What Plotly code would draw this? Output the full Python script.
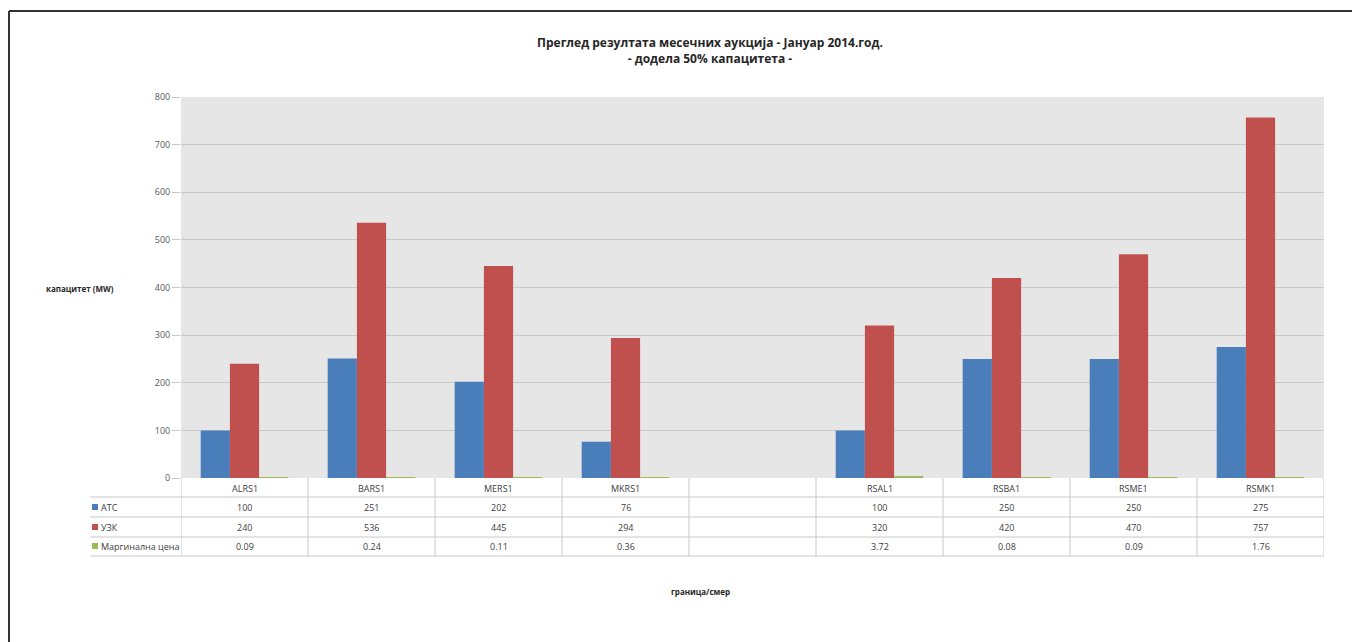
import plotly.graph_objects as go

categories = ["ALRS1", "BARS1", "MERS1", "MKRS1", " ", "RSAL1", "RSBA1", "RSME1", "RSMK1"]
atc = [100, 251, 202, 76, None, 100, 250, 250, 275]
uzk = [240, 536, 445, 294, None, 320, 420, 470, 757]
marg = [0.09, 0.24, 0.11, 0.36, None, 3.72, 0.08, 0.09, 1.76]
marg_txt = ["0.09", "0.24", "0.11", "0.36", "", "3.72", "0.08", "0.09", "1.76"]
series_names = ["АТС", "УЗК", "Маргинална цена"]
y_ticks = [0, 100, 200, 300, 400, 500, 600, 700, 800]

colors = ["#4a7ebb", "#c0504d", "#9bbb59"]
FONT = "Open Sans"

OFF = 8  # page body margin
W, H = 1360 - OFF, 642 - OFF
L, R, T, B = 181, 1324, 97, 478  # reference pixel positions
PW, PH = R - L, B - T


def px(x):
    return (x - L) / PW


def py(y):
    return (B - y) / PH


fig = go.Figure()
for name, vals, col in zip(series_names, [atc, uzk, marg], colors):
    fig.add_trace(go.Bar(x=categories, y=vals, name=name, marker_color=col,
                         marker_line_width=0, showlegend=False))

shapes = []
annotations = []

row_lines = [497, 517, 537, 556]
row_centers = [488, 507, 527, 546]
line_col = "#c8c8c8"

for yl in row_lines:
    shapes.append(dict(type="line", xref="paper", yref="paper",
                       x0=px(90), x1=1, y0=py(yl), y1=py(yl),
                       line=dict(color=line_col, width=1)))
for k in range(len(categories) + 1):
    shapes.append(dict(type="line", xref="x", yref="paper",
                       x0=k - 0.5, x1=k - 0.5, y0=0, y1=py(556),
                       line=dict(color=line_col, width=1)))

table_rows = [categories,
              [("" if v is None else str(v)) for v in atc],
              [("" if v is None else str(v)) for v in uzk],
              marg_txt]
for r, row in enumerate(table_rows):
    for k, txt in enumerate(row):
        if txt.strip() == "":
            continue
        annotations.append(dict(x=categories[k], xref="x", y=py(row_centers[r]), yref="paper",
                                text=txt, showarrow=False, xanchor="center", yanchor="middle",
                                font=dict(family=FONT, size=9, color="#404040")))

for i, (name, col) in enumerate(zip(series_names, colors)):
    yc = row_centers[i + 1]
    shapes.append(dict(type="rect", xref="paper", yref="paper",
                       x0=px(92), x1=px(98), y0=py(yc + 3), y1=py(yc - 3),
                       fillcolor=col, line=dict(width=0)))
    annotations.append(dict(x=px(99), xref="paper", y=py(yc), yref="paper",
                            text=name, showarrow=False, xanchor="left", yanchor="middle",
                            font=dict(family=FONT, size=9, color="#404040")))

# outer frame (top and left)
shapes.append(dict(type="line", xref="paper", yref="paper",
                   x0=px(9), x1=px(1360), y0=py(11), y1=py(11),
                   line=dict(color="#333333", width=2)))
shapes.append(dict(type="line", xref="paper", yref="paper",
                   x0=px(9), x1=px(9), y0=py(11), y1=py(642),
                   line=dict(color="#333333", width=2)))

annotations.append(dict(x=px(710), xref="paper", y=py(51), yref="paper",
                        text="<b>Преглед резултата месечних аукција - Јануар 2014.год.<br>- додела 50% капацитета -</b>",
                        showarrow=False, xanchor="center", yanchor="middle",
                        font=dict(family=FONT, size=12, color="#262626")))
annotations.append(dict(x=px(80), xref="paper", y=py(288), yref="paper",
                        text="<b>капацитет (MW)</b>", showarrow=False,
                        xanchor="center", yanchor="middle",
                        font=dict(family=FONT, size=8, color="#262626")))
annotations.append(dict(x=px(700), xref="paper", y=py(591), yref="paper",
                        text="<b>граница/смер</b>", showarrow=False,
                        xanchor="center", yanchor="middle",
                        font=dict(family=FONT, size=8, color="#262626")))

fig.update_layout(
    width=W, height=H,
    margin=dict(l=L - OFF, r=W - (R - OFF), t=T - OFF, b=H - (B - OFF)),
    paper_bgcolor="white",
    plot_bgcolor="#e6e6e6",
    barmode="group",
    bargap=0.31,
    bargroupgap=0,
    shapes=shapes,
    annotations=annotations,
    xaxis=dict(type="category", categoryorder="array", categoryarray=categories,
               showticklabels=False, showgrid=False, zeroline=False,
               range=[-0.5, len(categories) - 0.5]),
    yaxis=dict(range=[0, 800], tickvals=y_ticks, showgrid=True, gridcolor="#c8c8c8",
               gridwidth=1, zeroline=False, ticks="outside", ticklen=8,
               tickcolor="#c8c8c8", tickfont=dict(family=FONT, size=9, color="#595959"),
               showline=False),
)

fig.write_html("out.html")
